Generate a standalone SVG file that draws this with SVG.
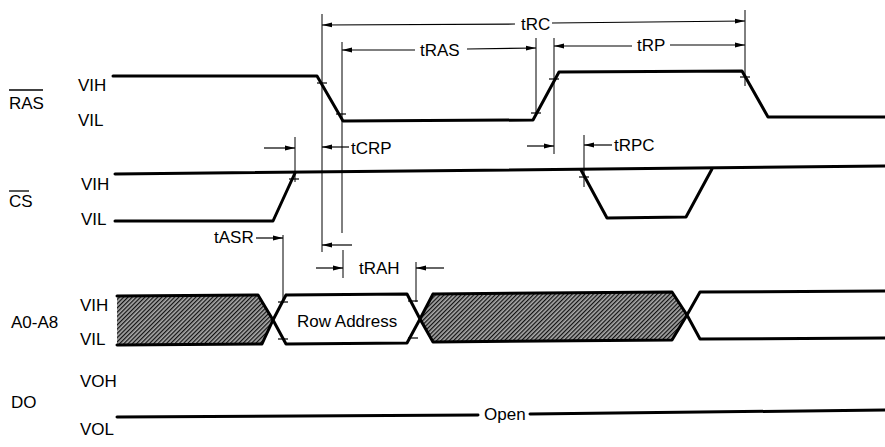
<svg xmlns="http://www.w3.org/2000/svg" width="885" height="447" viewBox="0 0 885 447">
<defs>
<marker id="ah" viewBox="0 0 10 6" refX="10" refY="3" markerWidth="10" markerHeight="6" markerUnits="userSpaceOnUse" orient="auto">
<path d="M0,0.6 L10,3 L0,5.4 z" fill="#000"/>
</marker>
<pattern id="hatch" width="3" height="3" patternUnits="userSpaceOnUse" patternTransform="rotate(45)">
<rect width="3" height="3" fill="#aaa"/>
<line x1="0.6" y1="0" x2="0.6" y2="3" stroke="#111" stroke-width="1.3"/>
</pattern>
<style>
.sig{fill:none;stroke:#000;stroke-width:3;stroke-linejoin:round;stroke-linecap:round}
.dim{fill:none;stroke:#000;stroke-width:1}
.arr{fill:none;stroke:#000;stroke-width:1.2;marker-end:url(#ah)}
.tick{stroke:#000;stroke-width:1.2}
text{font-family:"Liberation Sans",Arial,sans-serif;font-size:17px;fill:#000}
.ov{stroke:#000;stroke-width:1.3}
</style>
</defs>
<rect width="885" height="447" fill="#fff"/>

<g id="labels">
<text x="9" y="109">RAS</text><line class="ov" x1="9" y1="90" x2="43" y2="90"/>
<text x="78" y="91">VIH</text>
<text x="78" y="126">VIL</text>
<text x="9" y="207">CS</text><line class="ov" x1="9" y1="191" x2="29" y2="191"/>
<text x="81" y="190">VIH</text>
<text x="81" y="225">VIL</text>
<text x="11" y="328">A0-A8</text>
<text x="80" y="311">VIH</text>
<text x="80" y="345">VIL</text>
<text x="11" y="408">DO</text>
<text x="80" y="387">VOH</text>
<text x="80" y="435">VOL</text>
</g>

<g id="RAS">
<path class="sig" d="M113,76 L317,76 L343,121 L533,120 L559,72 L742,71 L768,117 L885,117"/>
</g>

<g id="CS">
<path class="sig" d="M115,174 L885,166"/>
<path class="sig" d="M115,221 L273,221 L295,173"/>
<path class="sig" d="M581,170 L607,218 L686,217 L712,169"/>
</g>

<g id="A0-A8">
<polygon points="117,296 258,295 273,320 262,344 117,345" fill="url(#hatch)"/>
<polyline class="sig" points="117,296 258,295 273,320 262,344 117,345"/>
<polyline class="sig" points="286,295 407,294 420,319 407,343 286,344 273,320 286,295"/>
<polygon points="433,294 672,292 687,315 672,340 433,342 420,319" fill="url(#hatch)"/>
<polyline class="sig" points="433,294 672,292 687,315 672,340 433,342 420,319 433,294"/>
<polyline class="sig" points="885,291 700,292 687,315 700,339 885,338"/>
<text x="297" y="327">Row Address</text>
</g>

<g id="DO">
<path class="sig" d="M117,417 L478,415"/>
<path class="sig" d="M530,414 L885,410"/>
<text x="484" y="420">Open</text>
</g>

<g id="ticks">
<line class="tick" x1="317" y1="83" x2="327" y2="83"/>
<line class="tick" x1="336" y1="114" x2="346" y2="114"/>
<line class="tick" x1="531" y1="113" x2="541" y2="113"/>
<line class="tick" x1="549" y1="79" x2="559" y2="79"/>
<line class="tick" x1="740" y1="77" x2="750" y2="77"/>
<line class="tick" x1="289" y1="179" x2="299" y2="179"/>
<line class="tick" x1="579" y1="177" x2="589" y2="177"/>
<line class="tick" x1="278" y1="302" x2="288" y2="302"/>
<line class="tick" x1="278" y1="339" x2="288" y2="339"/>
<line class="tick" x1="408" y1="301" x2="418" y2="301"/>
<line class="tick" x1="408" y1="338" x2="418" y2="338"/>
</g>

<g id="connectors">
<line class="dim" x1="322" y1="14" x2="322" y2="252"/>
<line class="dim" x1="342" y1="42" x2="342" y2="233"/>
<line class="dim" x1="536" y1="38" x2="536" y2="115"/>
<line class="dim" x1="554" y1="38" x2="554" y2="154"/>
<line class="dim" x1="745" y1="10" x2="745" y2="86"/>
<line class="dim" x1="295" y1="137" x2="295" y2="182"/>
<line class="dim" x1="283" y1="235" x2="283" y2="302"/>
<line class="dim" x1="343" y1="250" x2="343" y2="278"/>
<line class="dim" x1="416" y1="262" x2="416" y2="302"/>
<line class="dim" x1="584" y1="135" x2="584" y2="187"/>

<line class="arr" x1="515" y1="24" x2="322" y2="25"/>
<line class="arr" x1="552" y1="23" x2="745" y2="21"/>
<text x="521" y="30">tRC</text>

<line class="arr" x1="415" y1="50" x2="342" y2="50"/>
<line class="arr" x1="467" y1="49" x2="536" y2="48"/>
<text x="420" y="56">tRAS</text>

<line class="arr" x1="632" y1="46" x2="554" y2="46"/>
<line class="arr" x1="670" y1="45" x2="745" y2="45"/>
<text x="637" y="51">tRP</text>

<line class="arr" x1="264" y1="148" x2="295" y2="148"/>
<line class="arr" x1="349" y1="147" x2="322" y2="147"/>
<text x="351" y="154">tCRP</text>

<line class="arr" x1="527" y1="146" x2="554" y2="146"/>
<line class="arr" x1="612" y1="145" x2="584" y2="145"/>
<text x="614" y="151">tRPC</text>

<text x="214" y="243">tASR</text>
<line class="arr" x1="256" y1="238" x2="283" y2="238"/>

<line class="arr" x1="352" y1="245" x2="322" y2="245"/>

<line class="arr" x1="316" y1="268" x2="343" y2="268"/>
<text x="359" y="274">tRAH</text>
<line class="arr" x1="444" y1="268" x2="416" y2="268"/>
</g>
</svg>
